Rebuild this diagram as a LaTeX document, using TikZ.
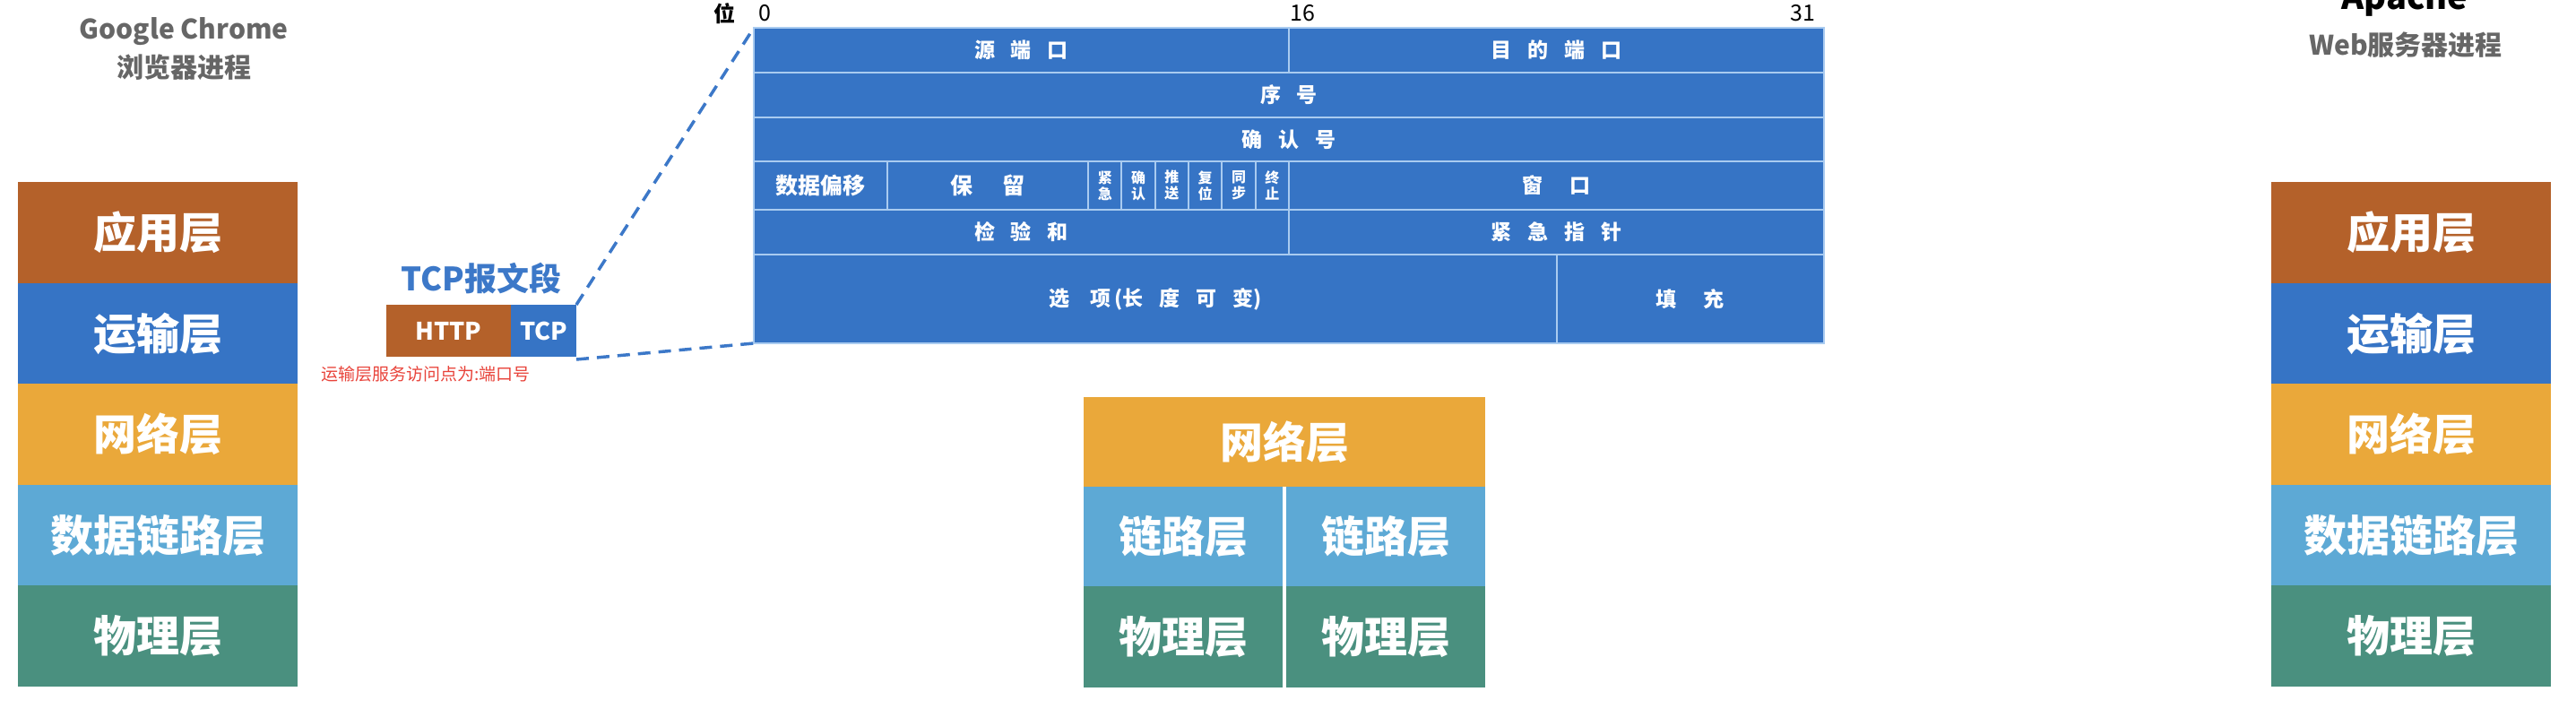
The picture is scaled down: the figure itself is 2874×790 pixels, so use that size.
\documentclass[tikz,border=0pt]{standalone}
\usepackage{fontspec}
\setmainfont{Noto Sans CJK SC}
\definecolor{cApp}{HTML}{B4612A}
\definecolor{cTrn}{HTML}{3674C5}
\definecolor{cNet}{HTML}{EAA83A}
\definecolor{cLnk}{HTML}{5DA9D5}
\definecolor{cPhy}{HTML}{4A907F}
\definecolor{cTab}{HTML}{3674C5}
\definecolor{cGrid}{HTML}{A9CBF0}
\definecolor{cTitle}{HTML}{666666}
\definecolor{cSeg}{HTML}{3C78C8}
\definecolor{cRed}{HTML}{E8433A}
\newcommand\gp{\hspace{0.78em}}
\newcommand\wgp{\hspace{1.3em}}
\begin{document}
\begin{tikzpicture}[x=1pt,y=-1pt,
  layer/.style={rectangle, inner sep=0pt, outer sep=0pt, minimum width=312pt, minimum height=112.6pt, text=white, font=\fontsize{48}{52}\selectfont\bfseries},
  mlayer/.style={layer, font=\fontsize{48}{52}\selectfont\bfseries},
  tcell/.style={rectangle, draw=cGrid, line width=2pt, fill=cTab, inner sep=0pt, outer sep=0pt, text=white, font=\fontsize{23}{26}\selectfont\bfseries},
  flag/.style={tcell, minimum width=37.3pt, minimum height=54pt, align=center, font=\fontsize{16}{18}\selectfont\bfseries},
  title/.style={text=cTitle, font=\fontsize{30}{34}\selectfont\bfseries},
  hdr/.style={text=black, font=\fontsize{25}{27}\selectfont},
  segbox/.style={rectangle, inner sep=0pt, outer sep=0pt, minimum height=58pt, text=white, font=\fontsize{27}{30}\selectfont\bfseries},
  zoomline/.style={draw=cSeg, line width=3.5pt, dash pattern=on 14pt off 9pt}
]
\useasboundingbox (0,0) rectangle (2874,790);
\clip (0,0) rectangle (2874,790);

% titles
\node[title] (gc) at (205,35) {Google Chrome};
\node[title] (gcp) at (205,75) {浏览器进程};
\node[text=black, font=\fontsize{38}{40}\selectfont\bfseries, anchor=base] (ap) at (2683,10) {Apache};
\node[title] (web) at (2684,50) {Web服务器进程};

% left stack
\node[layer, fill=cApp] (la) at (176,259.3) {应用层};
\node[layer, fill=cTrn] (lt) at (176,371.9) {运输层};
\node[layer, fill=cNet] (ln) at (176,484.5) {网络层};
\node[layer, fill=cLnk] (ll) at (176,597.1) {数据链路层};
\node[layer, fill=cPhy] (lp) at (176,709.7) {物理层};

% right stack
\node[layer, fill=cApp] (ra) at (2690,259.3) {应用层};
\node[layer, fill=cTrn] (rt) at (2690,371.9) {运输层};
\node[layer, fill=cNet] (rn) at (2690,484.5) {网络层};
\node[layer, fill=cLnk] (rl) at (2690,597.1) {数据链路层};
\node[layer, fill=cPhy] (rp) at (2690,709.7) {物理层};

% middle router stack
\node[mlayer, fill=cNet, minimum width=448pt, minimum height=100pt] (mn) at (1433,493) {网络层};
\node[mlayer, fill=cLnk, minimum width=222pt, minimum height=111pt] (ml1) at (1320,598.5) {链路层};
\node[mlayer, fill=cLnk, minimum width=222pt, minimum height=111pt] (ml2) at (1546,598.5) {链路层};
\node[mlayer, fill=cPhy, minimum width=222pt, minimum height=113pt] (mp1) at (1320,710.5) {物理层};
\node[mlayer, fill=cPhy, minimum width=222pt, minimum height=113pt] (mp2) at (1546,710.5) {物理层};

% TCP segment
\node[text=cSeg, font=\fontsize{36}{40}\selectfont\bfseries] (segt) at (537,311) {TCP报文段};
\node[segbox, fill=cApp, minimum width=139pt] (http) at (500.5,369) {HTTP};
\node[segbox, fill=cTrn, minimum width=73pt] (tcp) at (606.5,369) {TCP};
\node[text=cRed, font=\fontsize{19}{21}\selectfont, anchor=west] (note) at (355,417) {运输层服务访问点为:端口号};

% header numbers
\node[hdr, font=\fontsize{24}{26}\selectfont\bfseries] (wei) at (808,15) {位};
\node[hdr] (b0) at (853,15) {0};
\node[hdr] (b16) at (1453,15) {16};
\node[hdr] (b31) at (2011,15) {31};

% TCP header table
\node[tcell, minimum width=597pt, minimum height=50pt] (src) at (1139.5,56) {源\gp 端\gp 口};
\node[tcell, minimum width=597pt, minimum height=50pt] (dst) at (1736.5,56) {目\gp 的\gp 端\gp 口};
\node[tcell, minimum width=1194pt, minimum height=50pt] (seq) at (1438,106) {序\gp 号};
\node[tcell, minimum width=1194pt, minimum height=49pt] (ack) at (1438,155.5) {确\gp 认\gp 号};
\node[tcell, minimum width=149.25pt, minimum height=54pt, font=\fontsize{25}{27}\selectfont\bfseries] (off) at (915.6,207) {数据偏移};
\node[tcell, minimum width=223.9pt, minimum height=54pt, font=\fontsize{25}{27}\selectfont\bfseries] (rsv) at (1102.2,207) {保\wgp 留};
\node[flag] (f1) at (1232.8,207) {紧\\急};
\node[flag] (f2) at (1270.1,207) {确\\认};
\node[flag] (f3) at (1307.4,207) {推\\送};
\node[flag] (f4) at (1344.7,207) {复\\位};
\node[flag] (f5) at (1382.0,207) {同\\步};
\node[flag] (f6) at (1419.3,207) {终\\止};
\node[tcell, minimum width=597pt, minimum height=54pt] (win) at (1736.5,207) {窗\wgp 口};
\node[tcell, minimum width=597pt, minimum height=50pt] (chk) at (1139.5,259) {检\gp 验\gp 和};
\node[tcell, minimum width=597pt, minimum height=50pt] (urg) at (1736.5,259) {紧\gp 急\gp 指\gp 针};
\node[tcell, minimum width=895.5pt, minimum height=99pt] (opt) at (1288.75,333.5) {选\hspace{1em}项\,(长\gp 度\gp 可\gp 变)};
\node[tcell, minimum width=298.5pt, minimum height=99pt] (pad) at (1885.75,333.5) {填\wgp 充};

% zoom connectors
\draw[zoomline] (tcp.north east) -- (src.north west);
\draw[zoomline] ([yshift=-3pt]tcp.south east) -- (opt.south west);
\end{tikzpicture}
\end{document}
